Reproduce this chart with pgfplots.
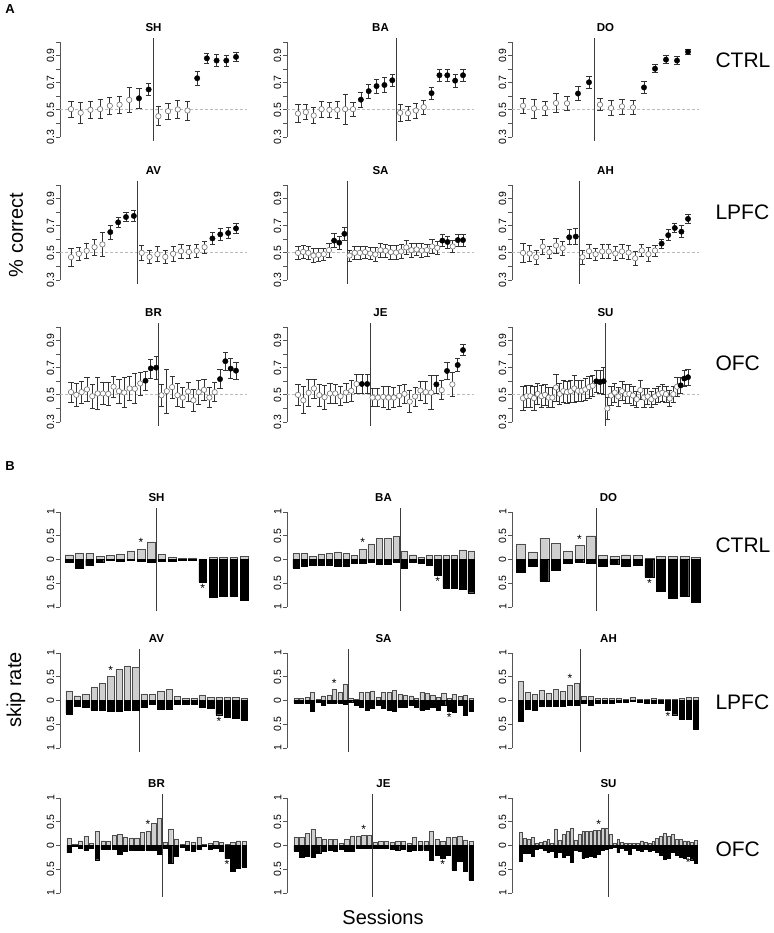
\documentclass[border=0pt]{standalone}
\usepackage{fontspec}
\setmainfont{Liberation Sans}
\usepackage{pgfplots}
\usepackage{pgfplotstable}
\pgfplotsset{compat=1.18}
\definecolor{axgray}{HTML}{555555}
\definecolor{opengray}{HTML}{707070}
\definecolor{bargray}{HTML}{CFCFCF}
\definecolor{dashgray}{HTML}{BBBBBB}
\newcommand{\fs}[1]{\fontsize{#1}{#1}\selectfont}
\tikzset{
 vl/.style={draw=axgray!70!black, line width=0.7pt},
 dl/.style={draw=dashgray, dash pattern=on 3pt off 2pt, line width=0.8pt},
}
\pgfplotsset{
 common/.style={scale only axis, anchor=south west, clip=false,
   axis x line=none, axis y line=left,
   y axis line style={-, draw=axgray, line width=0.7pt},
   tick align=outside, major tick length=4pt,
   ytick style={draw=axgray, line width=0.7pt},
   yticklabel style={rotate=90, anchor=south, font=\fs{10.5}, inner sep=1.5pt}},
 Astyle/.style={common, width=187pt, height=95pt, ymin=0.3, ymax=1.0,
   ytick={0.3,0.4,0.5,0.6,0.7,0.8,0.9,1.0}, yticklabels={0.3,,0.5,,0.7,,0.9,}},
 Bstyle/.style={common, width=193pt, height=95pt, ymin=-1, ymax=1,
   ytick={-1,-0.5,0,0.5,1}, yticklabels={1,0.5,0,0.5,1}},
 Apts/.style={scatter, only marks, scatter src=explicit symbolic, mark size=2.7pt,
   scatter/classes={o={mark=*, fill=white, draw=opengray, line width=0.6pt}, f={mark=*, fill=black, draw=black}},
   error bars/.cd, y dir=both, y explicit,
   error bar style={line width=0.7pt, color=black!80},
   error mark options={rotate=90, mark size=2.6pt, line width=0.7pt, color=black!80}},
 gbar/.style={ybar, bar shift=0pt, bar width=0.75, fill=bargray, draw=black!70, line width=0.4pt},
 kbar/.style={ybar, bar shift=0pt, bar width=0.75, fill=black, draw=black, line width=0.4pt},
 star/.style={only marks, mark=text, text mark={\fs{12}*}},
}
\newcommand{\ttl}[1]{\node[font=\bfseries\fs{11.5}, anchor=base] at ([yshift=10pt]rel axis cs:0.5,1) {#1};}
% ---- skip-rate tables (g: up bar, b: down bar) ----
\pgfplotstableread[row sep=\\]{g b\\
0.10 -0.06\\ 0.14 -0.19\\ 0.13 -0.13\\ 0.07 -0.06\\ 0.09 -0.01\\ 0.12 -0.04\\ 0.18 -0.02\\ 0.22 -0.035\\ 0.37 -0.06\\
0.11 -0.03\\ 0.055 -0.03\\ 0.02 -0.01\\ 0.035 -0.015\\ 0.015 -0.47\\ 0.04 -0.80\\ 0.05 -0.78\\ 0.05 -0.78\\ 0.06 -0.85\\}\tSH
\pgfplotstableread[row sep=\\]{g b\\
0.13 -0.18\\ 0.13 -0.15\\ 0.07 -0.13\\ 0.12 -0.13\\ 0.13 -0.13\\ 0.16 -0.15\\ 0.13 -0.15\\ 0.09 -0.08\\ 0.22 -0.08\\ 0.33 -0.05\\ 0.45 -0.10\\ 0.45 -0.10\\ 0.48 -0.05\\
0.18 -0.18\\ 0.10 -0.05\\ 0.05 -0.08\\ 0.08 -0.13\\ 0.08 -0.33\\ 0.08 -0.60\\ 0.08 -0.60\\ 0.20 -0.62\\ 0.18 -0.70\\}\tBA
\pgfplotstableread[row sep=\\]{g b\\
0.33 -0.27\\ 0.16 -0.15\\ 0.45 -0.45\\ 0.34 -0.23\\ 0.18 -0.08\\ 0.30 -0.05\\ 0.50 -0.08\\
0.08 -0.15\\ 0.07 -0.10\\ 0.10 -0.15\\ 0.08 -0.12\\ 0.03 -0.38\\ 0.06 -0.67\\ 0.06 -0.81\\ 0.06 -0.78\\ 0.05 -0.89\\}\tDO
\pgfplotstableread[row sep=\\]{g b\\
0.20 -0.28\\ 0.10 -0.12\\ 0.13 -0.14\\ 0.27 -0.20\\ 0.36 -0.20\\ 0.51 -0.22\\ 0.65 -0.22\\ 0.73 -0.20\\ 0.70 -0.20\\
0.14 -0.15\\ 0.13 -0.08\\ 0.19 -0.19\\ 0.23 -0.19\\ 0.08 -0.08\\ 0.05 -0.07\\ 0.05 -0.07\\ 0.12 -0.15\\ 0.07 -0.17\\ 0.07 -0.30\\ 0.07 -0.36\\ 0.07 -0.37\\ 0.05 -0.42\\}\tAV
\pgfplotstableread[row sep=\\]{g b\\
0.05 -0.05\\ 0.05 -0.05\\ 0.06 -0.06\\ 0.17 -0.22\\ 0.03 -0.03\\ 0.10 -0.10\\ 0.12 -0.06\\ 0.23 -0.05\\ 0.17 -0.05\\ 0.35 -0.08\\
0.04 -0.04\\ 0.02 -0.10\\ 0.17 -0.15\\ 0.18 -0.20\\ 0.20 -0.17\\ 0.06 -0.10\\ 0.17 -0.17\\ 0.18 -0.20\\ 0.22 -0.22\\ 0.13 -0.15\\ 0.12 -0.15\\ 0.10 -0.10\\
0.05 -0.15\\ 0.17 -0.20\\ 0.16 -0.18\\ 0.12 -0.15\\ 0.06 -0.20\\ 0.16 -0.10\\ 0.05 -0.22\\ 0.13 -0.25\\ 0.09 -0.10\\ 0.12 -0.32\\ 0.05 -0.22\\}\tSA
\pgfplotstableread[row sep=\\]{g b\\
0.40 -0.43\\ 0.18 -0.18\\ 0.13 -0.20\\ 0.22 -0.13\\ 0.16 -0.12\\ 0.24 -0.13\\ 0.19 -0.13\\ 0.33 -0.10\\ 0.37 -0.10\\
0.08 -0.05\\ 0.08 -0.10\\ 0.05 -0.05\\ 0.05 -0.05\\ 0.05 -0.05\\ 0.04 -0.03\\ 0.03 -0.03\\ 0.06 -0.02\\ 0.03 -0.03\\ 0.03 -0.05\\ 0.05 -0.05\\ 0.02 -0.05\\
0.02 -0.20\\ 0.02 -0.30\\ 0.05 -0.40\\ 0.06 -0.40\\ 0.06 -0.60\\}\tAH
\pgfplotstableread[row sep=\\]{g b\\
0.15 -0.15\\ 0.02 -0.02\\ 0.10 -0.05\\ 0.19 -0.10\\ 0.05 -0.05\\ 0.30 -0.30\\ 0.10 -0.08\\ 0.09 -0.08\\ 0.22 -0.08\\ 0.24 -0.18\\ 0.18 -0.13\\ 0.16 -0.10\\ 0.16 -0.10\\ 0.28 -0.10\\ 0.31 -0.10\\ 0.47 -0.10\\ 0.57 -0.18\\
0.06 -0.05\\ 0.35 -0.38\\ 0.14 -0.22\\ 0.03 -0.03\\ 0.09 -0.10\\ 0.07 -0.12\\ 0.18 -0.08\\ 0.02 -0.02\\ 0.05 -0.08\\ 0.09 -0.05\\ 0.06 -0.12\\ 0.03 -0.27\\ 0.06 -0.55\\ 0.10 -0.47\\ 0.08 -0.45\\}\tBR
\pgfplotstableread[row sep=\\]{g b\\
0.18 -0.12\\ 0.17 -0.25\\ 0.25 -0.22\\ 0.35 -0.25\\ 0.17 -0.17\\ 0.14 -0.13\\ 0.13 -0.10\\ 0.13 -0.13\\ 0.05 -0.08\\ 0.13 -0.13\\ 0.20 -0.13\\ 0.20 -0.06\\ 0.21 -0.06\\ 0.21 -0.06\\
0.07 -0.05\\ 0.08 -0.05\\ 0.08 -0.05\\ 0.06 -0.07\\ 0.08 -0.10\\ 0.09 -0.07\\ 0.04 -0.12\\ 0.18 -0.10\\ 0.09 -0.10\\ 0.09 -0.10\\ 0.30 -0.32\\ 0.13 -0.20\\ 0.09 -0.27\\ 0.18 -0.20\\ 0.18 -0.52\\ 0.19 -0.33\\ 0.12 -0.55\\ 0.08 -0.73\\}\tJE
\pgfplotstableread[row sep=\\]{g b\\
0.27 -0.33\\ 0.15 -0.17\\ 0.13 -0.17\\ 0.17 -0.23\\ 0.05 -0.08\\ 0.07 -0.05\\ 0.10 -0.10\\ 0.13 -0.15\\ 0.05 -0.12\\ 0.35 -0.25\\ 0.12 -0.15\\ 0.23 -0.25\\
0.30 -0.20\\ 0.37 -0.35\\ 0.12 -0.10\\ 0.23 -0.13\\ 0.30 -0.27\\ 0.30 -0.25\\ 0.30 -0.22\\ 0.32 -0.25\\ 0.32 -0.18\\ 0.37 -0.10\\ 0.37 -0.08\\
0.23 -0.05\\ 0.04 -0.03\\ 0.13 -0.15\\ 0.06 -0.05\\ 0.05 -0.10\\ 0.04 -0.18\\ 0.05 -0.05\\ 0.05 -0.10\\ 0.10 -0.12\\ 0.06 -0.08\\ 0.05 -0.12\\ 0.08 -0.10\\
0.15 -0.15\\ 0.20 -0.20\\ 0.26 -0.28\\ 0.20 -0.27\\ 0.23 -0.15\\ 0.13 -0.20\\ 0.13 -0.25\\ 0.10 -0.27\\ 0.10 -0.22\\ 0.06 -0.30\\ 0.12 -0.38\\}\tSU
\begin{document}
\begin{tikzpicture}[x=1pt,y=1pt]
\useasboundingbox (0,0) rectangle (773,933);
% ---------------- Section A ----------------
\node[font=\bfseries\fs{13}] at (10,924) {A};
\node[font=\fs{20}, rotate=90] at (16,698) {\% correct};
\node[font=\fs{21}, anchor=west] at (712,873) {CTRL};
\node[font=\fs{21}, anchor=west] at (712,721) {LPFC};
\node[font=\fs{21}, anchor=west] at (712,570) {OFC};

% SH
\begin{axis}[Astyle, at={(60pt,796pt)}, xmin=-0.133, xmax=19.133]
\draw[dl] (axis cs:-0.133,0.5) -- (axis cs:19.133,0.5);
\draw[vl] (axis cs:9.5,0.272) -- (axis cs:9.5,1.028);
\addplot[Apts] table[row sep=\\, x expr=\coordindex+1, y=y, y error=e, meta=c] {y e c\\
0.505 0.06 o\\ 0.478 0.075 o\\ 0.50 0.065 o\\ 0.505 0.07 o\\ 0.53 0.065 o\\ 0.538 0.065 o\\ 0.573 0.095 o\\ 0.585 0.075 f\\ 0.65 0.045 f\\
0.453 0.07 o\\ 0.49 0.06 o\\ 0.503 0.065 o\\ 0.495 0.07 o\\ 0.733 0.05 f\\ 0.88 0.035 f\\ 0.863 0.045 f\\ 0.863 0.04 f\\ 0.89 0.035 f\\};
\ttl{SH}
\end{axis}
% BA
\begin{axis}[Astyle, at={(287pt,796pt)}, xmin=-0.4, xmax=23.4]
\draw[dl] (axis cs:-0.4,0.5) -- (axis cs:23.4,0.5);
\draw[vl] (axis cs:13.5,0.272) -- (axis cs:13.5,1.028);
\addplot[Apts] table[row sep=\\, x expr=\coordindex+1, y=y, y error=e, meta=c] {y e c\\
0.473 0.065 o\\ 0.483 0.055 o\\ 0.458 0.06 o\\ 0.505 0.06 o\\ 0.50 0.055 o\\ 0.50 0.06 o\\ 0.505 0.11 o\\ 0.505 0.05 o\\ 0.575 0.055 f\\ 0.638 0.05 f\\ 0.675 0.05 f\\ 0.683 0.055 f\\ 0.718 0.045 f\\
0.478 0.06 o\\ 0.475 0.05 o\\ 0.495 0.055 o\\ 0.52 0.05 o\\ 0.623 0.045 f\\ 0.755 0.045 f\\ 0.755 0.045 f\\ 0.715 0.05 f\\ 0.755 0.045 f\\};
\ttl{BA}
\end{axis}
% DO
\begin{axis}[Astyle, at={(512pt,796pt)}, xmin=0, xmax=17]
\draw[dl] (axis cs:0,0.5) -- (axis cs:17,0.5);
\draw[vl] (axis cs:7.5,0.272) -- (axis cs:7.5,1.028);
\addplot[Apts] table[row sep=\\, x expr=\coordindex+1, y=y, y error=e, meta=c] {y e c\\
0.53 0.055 o\\ 0.51 0.07 o\\ 0.513 0.05 o\\ 0.55 0.07 o\\ 0.548 0.05 o\\ 0.62 0.05 f\\ 0.703 0.045 f\\
0.538 0.045 o\\ 0.513 0.055 o\\ 0.525 0.055 o\\ 0.518 0.05 o\\ 0.665 0.045 f\\ 0.803 0.03 f\\ 0.87 0.03 f\\ 0.863 0.03 f\\ 0.928 0.02 f\\};
\ttl{DO}
\end{axis}
% AV
\begin{axis}[Astyle, at={(60pt,653pt)}, xmin=-0.4, xmax=23.4]
\draw[dl] (axis cs:-0.4,0.5) -- (axis cs:23.4,0.5);
\draw[vl] (axis cs:9.5,0.272) -- (axis cs:9.5,1.028);
\addplot[Apts] table[row sep=\\, x expr=\coordindex+1, y=y, y error=e, meta=c] {y e c\\
0.468 0.065 o\\ 0.493 0.05 o\\ 0.515 0.055 o\\ 0.542 0.06 o\\ 0.562 0.09 o\\ 0.653 0.05 f\\ 0.725 0.04 f\\ 0.764 0.035 f\\ 0.772 0.04 f\\
0.50 0.055 o\\ 0.47 0.045 o\\ 0.49 0.055 o\\ 0.47 0.05 o\\ 0.493 0.055 o\\ 0.512 0.05 o\\ 0.507 0.05 o\\ 0.515 0.05 o\\ 0.542 0.045 o\\ 0.606 0.045 f\\ 0.636 0.045 f\\ 0.646 0.04 f\\ 0.68 0.04 f\\};
\ttl{AV}
\end{axis}
% SA
\begin{axis}[Astyle, at={(287pt,653pt)}, xmin=-1.133, xmax=35.133]
\draw[dl] (axis cs:-1.133,0.5) -- (axis cs:35.133,0.5);
\draw[vl] (axis cs:10.5,0.272) -- (axis cs:10.5,1.028);
\addplot[Apts] table[row sep=\\, x expr=\coordindex+1, y=y, y error=e, meta=c] {y e c\\
0.50 0.05 o\\ 0.507 0.05 o\\ 0.50 0.05 o\\ 0.48 0.05 o\\ 0.485 0.05 o\\ 0.49 0.045 o\\ 0.52 0.05 o\\ 0.59 0.05 f\\ 0.575 0.05 f\\ 0.64 0.05 f\\
0.48 0.04 o\\ 0.50 0.045 o\\ 0.50 0.045 o\\ 0.505 0.045 o\\ 0.495 0.045 o\\ 0.488 0.05 o\\ 0.52 0.05 o\\ 0.515 0.05 o\\ 0.505 0.05 o\\ 0.502 0.05 o\\ 0.51 0.05 o\\ 0.54 0.05 o\\
0.52 0.05 o\\ 0.525 0.045 o\\ 0.517 0.05 o\\ 0.52 0.045 o\\ 0.547 0.05 o\\ 0.537 0.045 o\\ 0.59 0.045 f\\ 0.58 0.045 f\\ 0.547 0.045 o\\ 0.594 0.045 f\\ 0.594 0.045 f\\};
\ttl{SA}
\end{axis}
% AH
\begin{axis}[Astyle, at={(512pt,653pt)}, xmin=-0.667, xmax=27.667]
\draw[dl] (axis cs:-0.667,0.5) -- (axis cs:27.667,0.5);
\draw[vl] (axis cs:9.5,0.272) -- (axis cs:9.5,1.028);
\addplot[Apts] table[row sep=\\, x expr=\coordindex+1, y=y, y error=e, meta=c] {y e c\\
0.50 0.07 o\\ 0.495 0.06 o\\ 0.468 0.05 o\\ 0.546 0.055 o\\ 0.505 0.045 o\\ 0.554 0.055 o\\ 0.534 0.05 o\\ 0.615 0.055 f\\ 0.62 0.06 f\\
0.468 0.05 o\\ 0.512 0.05 o\\ 0.49 0.045 o\\ 0.51 0.05 o\\ 0.51 0.05 o\\ 0.495 0.05 o\\ 0.51 0.05 o\\ 0.502 0.05 o\\ 0.46 0.05 o\\ 0.517 0.045 o\\ 0.49 0.05 o\\ 0.517 0.04 o\\
0.568 0.035 f\\ 0.63 0.04 f\\ 0.683 0.035 f\\ 0.656 0.045 f\\ 0.75 0.035 f\\};
\ttl{AH}
\end{axis}
% BR
\begin{axis}[Astyle, at={(60pt,511pt)}, xmin=-1.067, xmax=34.067]
\draw[dl] (axis cs:-1.067,0.5) -- (axis cs:34.067,0.5);
\draw[vl] (axis cs:17.5,0.272) -- (axis cs:17.5,1.028);
\addplot[Apts] table[row sep=\\, x expr=\coordindex+1, y=y, y error=e, meta=c] {y e c\\
0.52 0.075 o\\ 0.50 0.085 o\\ 0.52 0.08 o\\ 0.54 0.09 o\\ 0.49 0.09 o\\ 0.51 0.12 o\\ 0.51 0.08 o\\ 0.507 0.085 o\\ 0.56 0.075 o\\ 0.527 0.09 o\\ 0.517 0.11 o\\ 0.547 0.09 o\\ 0.545 0.11 o\\ 0.584 0.085 o\\ 0.604 0.07 f\\ 0.695 0.07 f\\ 0.70 0.085 f\\
0.497 0.08 o\\ 0.527 0.16 o\\ 0.557 0.08 o\\ 0.497 0.085 o\\ 0.48 0.075 o\\ 0.525 0.07 o\\ 0.46 0.08 o\\ 0.52 0.09 o\\ 0.537 0.08 o\\ 0.48 0.075 o\\ 0.52 0.07 o\\ 0.616 0.07 f\\ 0.748 0.065 f\\ 0.693 0.075 f\\ 0.678 0.065 f\\};
\ttl{BR}
\end{axis}
% JE
\begin{axis}[Astyle, at={(287pt,511pt)}, xmin=-1.067, xmax=34.067]
\draw[dl] (axis cs:-1.067,0.5) -- (axis cs:34.067,0.5);
\draw[vl] (axis cs:14.5,0.272) -- (axis cs:14.5,1.028);
\addplot[Apts] table[row sep=\\, x expr=\coordindex+1, y=y, y error=e, meta=c] {y e c\\
0.50 0.08 o\\ 0.46 0.1 o\\ 0.515 0.1 o\\ 0.547 0.07 o\\ 0.498 0.08 o\\ 0.483 0.09 o\\ 0.51 0.075 o\\ 0.51 0.07 o\\ 0.49 0.07 o\\ 0.517 0.07 o\\ 0.53 0.075 o\\ 0.58 0.07 o\\ 0.58 0.07 f\\ 0.58 0.07 f\\
0.48 0.065 o\\ 0.48 0.065 o\\ 0.485 0.075 o\\ 0.48 0.085 o\\ 0.48 0.075 o\\ 0.493 0.075 o\\ 0.507 0.07 o\\ 0.45 0.08 o\\ 0.488 0.07 o\\ 0.532 0.07 o\\ 0.52 0.08 o\\ 0.517 0.125 o\\
0.577 0.065 f\\ 0.535 0.07 o\\ 0.676 0.06 f\\ 0.577 0.09 o\\ 0.72 0.05 f\\ 0.83 0.04 f\\};
\ttl{JE}
\end{axis}
% SU
\begin{axis}[Astyle, at={(512pt,511pt)}, xmin=-2, xmax=49]
\draw[dl] (axis cs:-2,0.5) -- (axis cs:49,0.5);
\draw[vl] (axis cs:23.5,0.272) -- (axis cs:23.5,1.028);
\addplot[Apts] table[row sep=\\, x expr=\coordindex+1, y=y, y error=e, meta=c] {y e c\\
0.475 0.09 o\\ 0.49 0.08 o\\ 0.49 0.08 o\\ 0.475 0.09 o\\ 0.507 0.08 o\\ 0.49 0.08 o\\ 0.50 0.08 o\\ 0.48 0.075 o\\ 0.48 0.075 o\\ 0.554 0.1 o\\ 0.507 0.075 o\\ 0.527 0.08 o\\
0.52 0.08 o\\ 0.527 0.08 o\\ 0.547 0.1 o\\ 0.53 0.08 o\\ 0.53 0.08 o\\ 0.54 0.08 o\\ 0.557 0.08 o\\ 0.567 0.08 o\\ 0.60 0.08 f\\ 0.594 0.085 f\\ 0.60 0.1 f\\
0.40 0.08 o\\ 0.495 0.07 o\\ 0.517 0.07 o\\ 0.488 0.07 o\\ 0.527 0.07 o\\ 0.505 0.07 o\\ 0.507 0.07 o\\ 0.495 0.07 o\\ 0.468 0.06 o\\ 0.535 0.07 o\\ 0.48 0.07 o\\ 0.488 0.06 o\\
0.468 0.06 o\\ 0.488 0.06 o\\ 0.505 0.06 o\\ 0.515 0.06 o\\ 0.505 0.06 o\\ 0.473 0.06 o\\ 0.505 0.06 o\\ 0.56 0.07 o\\ 0.57 0.06 f\\ 0.62 0.06 f\\ 0.63 0.06 f\\};
\ttl{SU}
\end{axis}

% ---------------- Section B ----------------
\node[font=\bfseries\fs{13}] at (10,467) {B};
\node[font=\fs{20}, rotate=90] at (16,243) {skip rate};
\node[font=\fs{20}] at (383,16) {Sessions};
\node[font=\fs{21}, anchor=west] at (712,388) {CTRL};
\node[font=\fs{21}, anchor=west] at (712,231) {LPFC};
\node[font=\fs{21}, anchor=west] at (712,84) {OFC};

\begin{axis}[Bstyle, at={(60pt,326pt)}, xmin=0.126, xmax=18.874]
\draw[vl] (axis cs:9.5,-1.08) -- (axis cs:9.5,1.08);
\addplot[gbar] table[x expr=\coordindex+1, y=g] {\tSH};
\addplot[kbar] table[x expr=\coordindex+1, y=b] {\tSH};
\addplot[star] coordinates {(8,0.36) (14,-0.60)};
\ttl{SH}
\end{axis}
\begin{axis}[Bstyle, at={(287pt,326pt)}, xmin=-0.08, xmax=23.08]
\draw[vl] (axis cs:13.5,-1.08) -- (axis cs:13.5,1.08);
\addplot[gbar] table[x expr=\coordindex+1, y=g] {\tBA};
\addplot[kbar] table[x expr=\coordindex+1, y=b] {\tBA};
\addplot[star] coordinates {(9,0.35) (18,-0.46)};
\ttl{BA}
\end{axis}
\begin{axis}[Bstyle, at={(512pt,326pt)}, xmin=0.229, xmax=16.771]
\draw[vl] (axis cs:7.5,-1.08) -- (axis cs:7.5,1.08);
\addplot[gbar] table[x expr=\coordindex+1, y=g] {\tDO};
\addplot[kbar] table[x expr=\coordindex+1, y=b] {\tDO};
\addplot[star] coordinates {(6,0.43) (12,-0.51)};
\ttl{DO}
\end{axis}
\begin{axis}[Bstyle, at={(60pt,185pt)}, xmin=-0.08, xmax=23.08]
\draw[vl] (axis cs:9.5,-1.08) -- (axis cs:9.5,1.08);
\addplot[gbar] table[x expr=\coordindex+1, y=g] {\tAV};
\addplot[kbar] table[x expr=\coordindex+1, y=b] {\tAV};
\addplot[star] coordinates {(6,0.64) (19,-0.43)};
\ttl{AV}
\end{axis}
\begin{axis}[Bstyle, at={(287pt,185pt)}, xmin=-0.646, xmax=34.646]
\draw[vl] (axis cs:10.5,-1.08) -- (axis cs:10.5,1.08);
\addplot[gbar] table[x expr=\coordindex+1, y=g] {\tSA};
\addplot[kbar] table[x expr=\coordindex+1, y=b] {\tSA};
\addplot[star] coordinates {(8,0.36) (29,-0.35)};
\ttl{SA}
\end{axis}
\begin{axis}[Bstyle, at={(512pt,185pt)}, xmin=-0.286, xmax=27.286]
\draw[vl] (axis cs:9.5,-1.08) -- (axis cs:9.5,1.08);
\addplot[gbar] table[x expr=\coordindex+1, y=g] {\tAH};
\addplot[kbar] table[x expr=\coordindex+1, y=b] {\tAH};
\addplot[star] coordinates {(8,0.46) (22,-0.33)};
\ttl{AH}
\end{axis}
\begin{axis}[Bstyle, at={(60pt,40pt)}, xmin=-0.594, xmax=33.594]
\draw[vl] (axis cs:17.5,-1.08) -- (axis cs:17.5,1.08);
\addplot[gbar] table[x expr=\coordindex+1, y=g] {\tBR};
\addplot[kbar] table[x expr=\coordindex+1, y=b] {\tBR};
\addplot[star] coordinates {(15,0.44) (29,-0.40)};
\ttl{BR}
\end{axis}
\begin{axis}[Bstyle, at={(287pt,40pt)}, xmin=-0.594, xmax=33.594]
\draw[vl] (axis cs:14.5,-1.08) -- (axis cs:14.5,1.08);
\addplot[gbar] table[x expr=\coordindex+1, y=g] {\tJE};
\addplot[kbar] table[x expr=\coordindex+1, y=b] {\tJE};
\addplot[star] coordinates {(13,0.34) (27,-0.40)};
\ttl{JE}
\end{axis}
\begin{axis}[Bstyle, at={(512pt,40pt)}, xmin=-1.314, xmax=48.314]
\draw[vl] (axis cs:23.5,-1.08) -- (axis cs:23.5,1.08);
\addplot[gbar] table[x expr=\coordindex+1, y=g] {\tSU};
\addplot[kbar] table[x expr=\coordindex+1, y=b] {\tSU};
\addplot[star] coordinates {(21,0.45) (44,-0.35)};
\ttl{SU}
\end{axis}
\end{tikzpicture}
\end{document}
